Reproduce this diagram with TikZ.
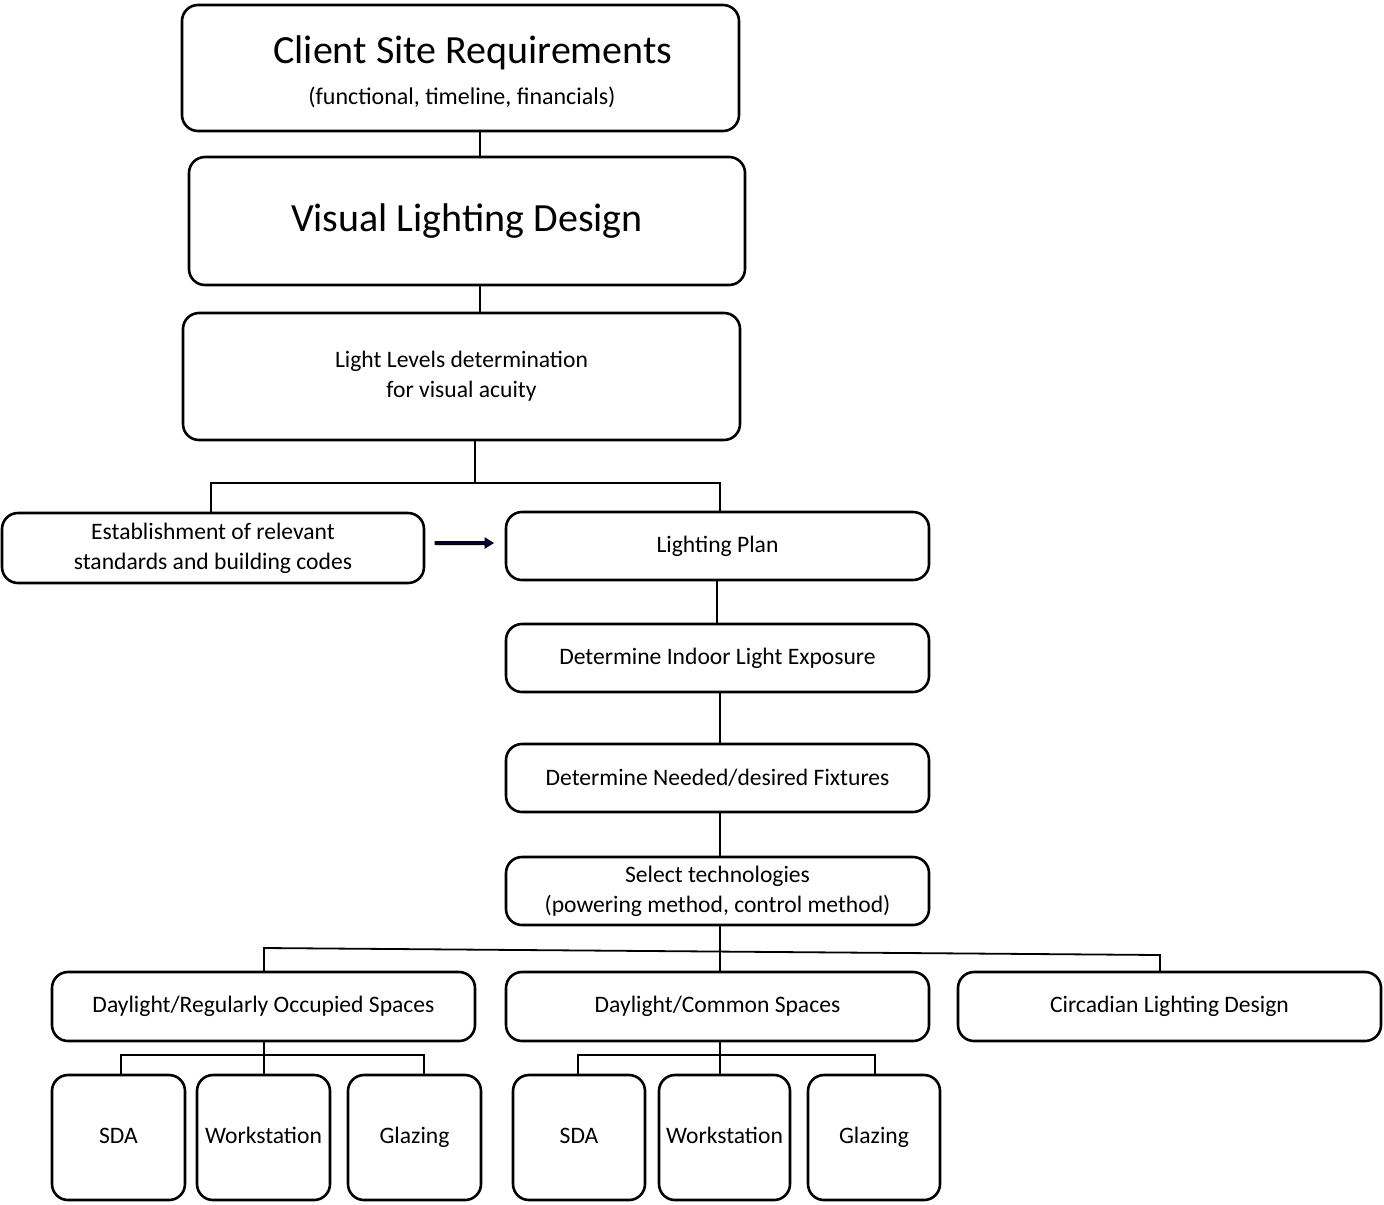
\documentclass[tikz,border=0pt]{standalone}
\usepackage{fontspec}
\setmainfont{Carlito}
\usetikzlibrary{arrows.meta}
\begin{document}
\begin{tikzpicture}[x=0.5pt,y=-0.5pt,
 box/.style={draw,line width=1.3pt,rounded corners=8pt,align=center,inner sep=0pt,font=\fontsize{11.8}{15}\selectfont},
 ln/.style={line width=0.9pt}]
\useasboundingbox (0,0) rectangle (1384,1204);
\newcommand{\bx}[6]{\node[box,minimum width=#4*0.5pt-#2*0.5pt,minimum height=#5*0.5pt-#3*0.5pt] (#1) at ({(#2+#4)/2},{(#3+#5)/2}) {#6};}
\bx{client}{182}{5}{739}{131}{}
\node[font=\fontsize{20}{22}\selectfont] (ct) at (473,53) {Client Site Requirements};
\node[font=\fontsize{12}{14}\selectfont] (cs) at (462,97) {(functional, timeline, financials)};
\bx{visual}{189}{157}{745}{285}{\fontsize{20}{22}\selectfont Visual Lighting Design}
\bx{levels}{183}{313}{740}{440}{Light Levels determination\\for visual acuity}
\bx{estab}{2}{513}{424}{583}{Establishment of relevant\\standards and building codes}
\bx{plan}{506}{512}{929}{580}{Lighting Plan}
\bx{indoor}{506}{624}{929}{692}{Determine Indoor Light Exposure}
\bx{fix}{506}{744}{929}{812}{Determine Needed/desired Fixtures}
\bx{tech}{506}{857}{929}{925}{Select technologies\\(powering method, control method)}
\bx{reg}{52}{972}{475}{1041}{Daylight/Regularly Occupied Spaces}
\bx{com}{506}{972}{929}{1041}{Daylight/Common Spaces}
\bx{circ}{958}{972}{1381}{1041}{Circadian Lighting Design}
\bx{s1}{52}{1075}{185}{1200}{\strut SDA}
\bx{w1}{197}{1075}{330}{1200}{\strut Workstation}
\bx{g1}{348}{1075}{481}{1200}{\strut Glazing}
\bx{s2}{513}{1075}{645}{1200}{\strut SDA}
\bx{w2}{659}{1075}{790}{1200}{\strut Workstation}
\bx{g2}{808}{1075}{940}{1200}{\strut Glazing}
\draw[ln] (480,131) -- (480,157);
\draw[ln] (480,285) -- (480,313);
\draw[ln] (475,440) -- (475,483) (211,513) -- (211,483) -- (720,483) -- (720,512);
\draw[ln] (717,580) -- (717,624);
\draw[ln] (720,692) -- (720,744);
\draw[ln] (720,812) -- (720,857);
\draw[ln] (720,925) -- (720,972);
\draw[ln] (264,972) -- (264,948) -- (1160,955) -- (1160,972);
\draw[ln] (264,1041) -- (264,1055) (121,1075) -- (121,1055) -- (424,1055) -- (424,1075) (264,1055) -- (264,1075);
\draw[ln] (720,1041) -- (720,1055) (578,1075) -- (578,1055) -- (875,1055) -- (875,1075) (720,1055) -- (720,1075);
\coordinate (a1) at (435,543); \coordinate (a2) at (486,543); \coordinate (a3) at (493,543);
\draw[draw=black,fill=blue!25!black,line width=0.5pt] (435,541.5) -- (485,541.5) -- (485,538) -- (a3) -- (485,548) -- (485,544.5) -- (435,544.5) -- cycle;
\end{tikzpicture}
\end{document}
